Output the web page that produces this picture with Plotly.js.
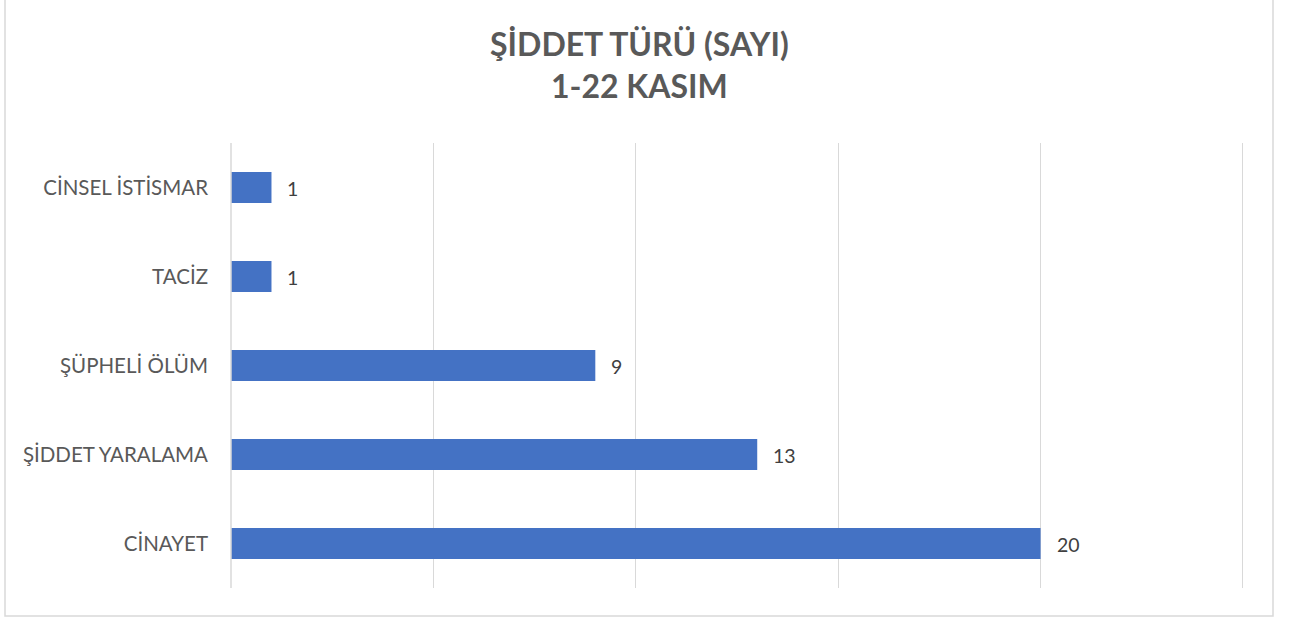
<!DOCTYPE html>
<html>
<head>
<meta charset="utf-8">
<script src="https://cdn.plot.ly/plotly-3.0.1.min.js"></script>
<style>
html,body{margin:0;padding:0;background:#fff;}
#chart{width:1291px;height:619px;}
</style>
</head>
<body>
<div id="chart"></div>
<script>
const categories = ["CİNAYET", "ŞİDDET YARALAMA", "ŞÜPHELİ ÖLÜM", "TACİZ", "CİNSEL İSTİSMAR"];
const values = [20, 13, 9, 1, 1];
const titleText = "ŞİDDET TÜRÜ (SAYI)<br>1-22 KASIM";

const FONT = "Lato, 'Open Sans', sans-serif";

const trace = {
  type: "bar",
  orientation: "h",
  x: values,
  y: categories,
  marker: {color: "#4472C4"},
  hoverinfo: "x+y"
};

const annotations = values.map((v, i) => ({
  x: v, y: categories[i], xref: "x", yref: "y",
  text: String(v), showarrow: false,
  xanchor: "left", xshift: 14, yshift: -1,
  font: {family: FONT, size: 19.5, color: "#404040"}
}));

annotations.push({
  xref: "paper", yref: "paper",
  x: (639 - 231) / 1014, y: (588 - 65) / 445,
  xanchor: "center", yanchor: "middle",
  text: "<b>" + titleText + "</b>", showarrow: false,
  font: {family: FONT, size: 32, color: "#595959"}
});

const layout = {
  width: 1291, height: 619,
  margin: {l: 231, r: 46, t: 143, b: 31},
  paper_bgcolor: "#ffffff",
  plot_bgcolor: "#ffffff",
  showlegend: false,
  bargap: 0.65,
  font: {family: FONT, size: 20, color: "#595959"},
  xaxis: {
    range: [0, 25.05], dtick: 5, tick0: 0,
    showticklabels: false,
    showgrid: true, gridcolor: "#d9d9d9", gridwidth: 1,
    zeroline: false, showline: false, ticks: "", fixedrange: true
  },
  yaxis: {
    type: "category",
    categoryorder: "array", categoryarray: categories,
    showgrid: false, zeroline: false, showline: false,
    ticks: "", ticklabelstandoff: 22,
    tickfont: {family: FONT, size: 20.5, color: "#595959"},
    fixedrange: true
  },
  annotations: annotations,
  shapes: [
    {type: "line", xref: "paper", yref: "paper", x0: 0, x1: 0, y0: 0, y1: 1,
     line: {color: "#d9d9d9", width: 1.5}},
    {type: "rect", xref: "paper", yref: "paper",
     x0: (5 - 231) / 1014, x1: (1273 - 231) / 1014,
     y0: (588 - 616) / 445, y1: (588 + 3) / 445,
     line: {color: "#d9d9d9", width: 1.5}, layer: "below"}
  ]
};

Plotly.newPlot("chart", [trace], layout, {displayModeBar: false, staticPlot: true});
</script>
</body>
</html>
